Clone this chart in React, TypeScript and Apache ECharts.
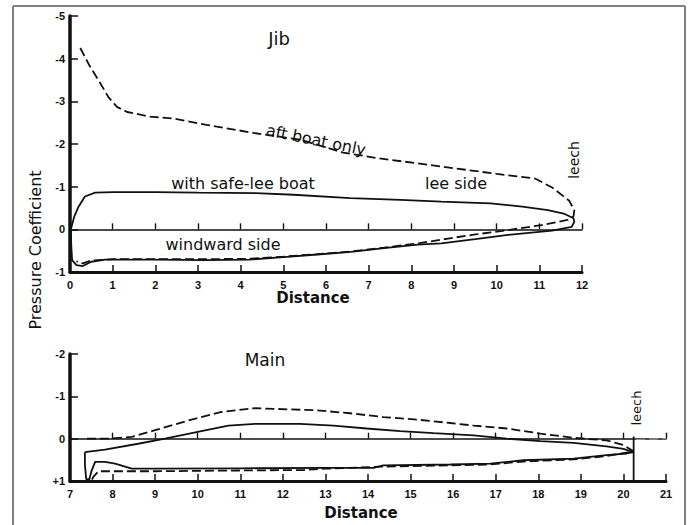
import React, { useEffect, useRef } from "react";
import * as echarts from "echarts";

// ---------- data ----------
const jibXTicks = [0, 12]; // min, max
const jibYTickLabels = ["-5", "-4", "-3", "-2", "-1", "0", "-1"]; // values -5..1
const mainXTicks = [7, 21];
const mainYTickLabels = ["-2", "-1", "0", "+1"]; // values -2..1

// Jib, with safe-lee boat (solid): lee side, then windward side back to the luff
const jibSafeLee: number[][] = [
  [0.02, 0], [0.1, -0.3], [0.2, -0.53], [0.35, -0.77], [0.59, -0.86], [1, -0.87],
  [2, -0.87], [3, -0.86], [4.35, -0.85], [5.24, -0.81], [6.57, -0.73], [7.75, -0.69],
  [8.7, -0.65], [9.86, -0.61], [10.6, -0.53], [11.2, -0.45], [11.57, -0.37],
  [11.8, -0.26], [11.82, -0.18], [11.76, -0.06],
];
const jibSafeWindward: number[][] = [
  [11.3, 0.03], [10.27, 0.13], [9.5, 0.23], [8.7, 0.33], [8.15, 0.36], [7.36, 0.44],
  [6.58, 0.53], [5.8, 0.59], [5.0, 0.65], [4.2, 0.71], [3.17, 0.72], [2.0, 0.71],
  [0.82, 0.71], [0.5, 0.76], [0.3, 0.86], [0.15, 0.84], [0.05, 0.72], [0.03, 0.4], [0.02, 0],
];
// Jib, aft boat only (dashed)
const jibAftLee: number[][] = [
  [0.24, -4.25], [0.45, -3.85], [0.7, -3.44], [0.9, -3.1], [1.1, -2.87], [1.34, -2.75],
  [1.88, -2.64], [2.4, -2.6], [3.2, -2.45], [4.3, -2.26], [5.4, -2.1], [6.4, -1.8],
  [7.2, -1.67], [8.8, -1.46], [10.0, -1.3], [10.9, -1.19], [11.3, -0.98], [11.7, -0.67],
  [11.82, -0.45], [11.8, -0.3],
];
const jibAftWindward: number[][] = [
  [11.66, -0.22], [11.05, -0.1], [10.25, 0.02], [9.5, 0.12], [8.9, 0.21], [8.15, 0.33],
  [7.36, 0.43], [6.58, 0.52], [5.8, 0.58], [5.0, 0.64], [4.2, 0.69], [3.17, 0.7],
  [2.0, 0.7], [1.0, 0.7], [0.5, 0.73], [0.3, 0.8], [0.15, 0.75],
];

// Main, with safe-lee boat (solid)
const mainSafeLee: number[][] = [
  [7.35, 0.32], [7.82, 0.26], [8.6, 0.12], [9.23, 0], [10.0, -0.16], [10.72, -0.31],
  [11.35, -0.35], [12.4, -0.35], [13.19, -0.31], [13.97, -0.24], [14.76, -0.18],
  [15.54, -0.13], [16.48, -0.08], [17.26, 0], [18.05, 0.06], [18.83, 0.1], [19.6, 0.18],
  [20.0, 0.24], [20.24, 0.32],
];
const mainSafeWindward: number[][] = [
  [20.08, 0.35], [19.6, 0.39], [18.83, 0.47], [17.65, 0.51], [16.87, 0.59], [15.93, 0.61],
  [14.36, 0.63], [14.13, 0.69], [13, 0.69], [11, 0.7], [9, 0.71], [8.45, 0.71],
  [8.06, 0.59], [7.82, 0.55], [7.59, 0.55], [7.5, 0.78], [7.45, 0.98], [7.38, 0.95],
  [7.35, 0.6], [7.35, 0.32],
];
// Main, aft boat only (dashed)
const mainAftLee: number[][] = [
  [7.4, 0], [7.9, 0], [8.45, -0.04], [9.0, -0.2], [9.78, -0.43], [10.56, -0.63],
  [11.35, -0.72], [12.8, -0.67], [13.58, -0.6], [14.36, -0.51], [15.15, -0.45],
  [15.93, -0.37], [16.48, -0.31], [17.26, -0.24], [18.05, -0.12], [18.83, -0.02],
  [19.6, 0.04], [20.0, 0.15], [20.24, 0.3],
];
const mainAftWindward: number[][] = [
  [19.6, 0.41], [18.83, 0.49], [17.65, 0.54], [16.87, 0.61], [15.93, 0.63], [14.36, 0.66],
  [13, 0.71], [12.5, 0.74], [11.23, 0.75], [10, 0.76], [9, 0.77], [7.67, 0.77],
  [7.55, 0.9], [7.5, 1.0], [7.42, 0.95],
];
const mainAftTail: number[][] = [[20.3, 0.02], [21, 0.0]];
const mainLeechLine: number[][] = [[20.24, -0.05], [20.24, 1]];

// ---------- styling ----------
const INK = "#111";
const FRAME = "#808080";
const FONT = "'DejaVu Sans', sans-serif";
const TICK_FONT = "'Liberation Sans', sans-serif";

function bottomAxis(grid: number, range: number[]) {
  return {
    gridIndex: grid,
    type: "value",
    min: range[0],
    max: range[1],
    interval: 1,
    position: "bottom",
    axisLine: { show: true, onZero: false, lineStyle: { color: INK, width: 3 } },
    axisTick: { show: true, inside: true, length: 7, lineStyle: { color: INK, width: 1.5 } },
    axisLabel: { show: true, color: INK, fontFamily: TICK_FONT, fontWeight: "bold", fontSize: 11, margin: 7 },
    splitLine: { show: false },
  };
}
function zeroAxis(grid: number, range: number[]) {
  return {
    gridIndex: grid,
    type: "value",
    min: range[0],
    max: range[1],
    interval: 1,
    position: "bottom",
    axisLine: { show: true, onZero: true, lineStyle: { color: INK, width: 1.6 } },
    axisTick: { show: true, inside: true, length: 6, lineStyle: { color: INK, width: 1.4 } },
    axisLabel: { show: false },
    splitLine: { show: false },
  };
}
function leftAxis(grid: number, labels: string[]) {
  const min = -(labels.length - 2);
  return {
    gridIndex: grid,
    type: "value",
    inverse: true,
    min,
    max: 1,
    interval: 1,
    position: "left",
    axisLine: { show: true, onZero: false, lineStyle: { color: INK, width: 3.5 } },
    axisTick: { show: true, inside: true, length: 8, lineStyle: { color: INK, width: 1.5 } },
    axisLabel: {
      show: true, color: INK, fontFamily: TICK_FONT, fontWeight: "bold", fontSize: 11, margin: 5,
      formatter: (v: number) => labels[Math.round(v - min)] ?? "",
    },
    splitLine: { show: false },
  };
}

function lineSeries(name: string, data: number[][], grid: number, dashed: boolean, color = INK, width = 1.8) {
  return {
    name, type: "line", xAxisIndex: grid * 2, yAxisIndex: grid, data,
    showSymbol: false, symbol: "none", smooth: false, silent: true,
    lineStyle: { color, width, type: dashed ? [9, 4] : "solid" }, z: 3,
  };
}

function txt(text: string, x: number, y: number, size: number, rotation = 0, weight = "normal") {
  return {
    type: "text", x, y, rotation,
    style: { text, fill: INK, fontFamily: FONT, fontSize: size, fontWeight: weight, align: "center", verticalAlign: "middle" },
    z: 10,
  };
}

export default function App() {
  const ref = useRef<HTMLDivElement>(null);
  useEffect(() => {
    if (!ref.current) return;
    const chart = echarts.init(ref.current, undefined, { renderer: "svg" });
    chart.setOption({
      animation: false,
      backgroundColor: "#fff",
      grid: [
        { left: 70, top: 16, width: 512, height: 256 },
        { left: 70, top: 354, width: 596, height: 127 },
      ],
      xAxis: [bottomAxis(0, jibXTicks), zeroAxis(0, jibXTicks), bottomAxis(1, mainXTicks), zeroAxis(1, mainXTicks)],
      yAxis: [leftAxis(0, jibYTickLabels), leftAxis(1, mainYTickLabels)],
      series: [
        lineSeries("with safe-lee boat", [...jibSafeLee, ...jibSafeWindward], 0, false),
        lineSeries("aft boat only", [...jibAftLee, ...jibAftWindward], 0, true),
        lineSeries("with safe-lee boat (main)", [...mainSafeLee, ...mainSafeWindward], 1, false),
        lineSeries("aft boat only (main)", [...mainAftLee, ...mainAftWindward], 1, true),
        lineSeries("aft tail", mainAftTail, 1, true, "#999", 1.2),
        lineSeries("leech", mainLeechLine, 1, false, INK, 1.8),
      ],
      graphic: [
        { type: "line", shape: { x1: 13, y1: 6, x2: 13, y2: 525 }, style: { stroke: FRAME, lineWidth: 2 } },
        { type: "line", shape: { x1: 13, y1: 6, x2: 685, y2: 6 }, style: { stroke: FRAME, lineWidth: 2 } },
        { type: "line", shape: { x1: 685, y1: 6, x2: 685, y2: 525 }, style: { stroke: FRAME, lineWidth: 2 } },
        txt("Jib", 279, 38, 18),
        txt("aft boat only", 316, 140, 16, -0.2),
        txt("with safe-lee boat", 243, 183, 16),
        txt("lee side", 456, 183, 16),
        txt("windward side", 223, 244, 16),
        txt("leech", 574, 160, 14, Math.PI / 2),
        txt("Distance", 313, 298, 15, 0, "bold"),
        txt("Pressure Coefficient", 35, 250, 16, Math.PI / 2),
        txt("Main", 265, 360, 17),
        txt("leech", 636, 408, 13, Math.PI / 2),
        txt("Distance", 361, 513, 15, 0, "bold"),
      ],
    });
    return () => chart.dispose();
  }, []);
  return <div ref={ref} style={{ position: "absolute", left: 0, top: 0, width: 688, height: 525 }} />;
}
